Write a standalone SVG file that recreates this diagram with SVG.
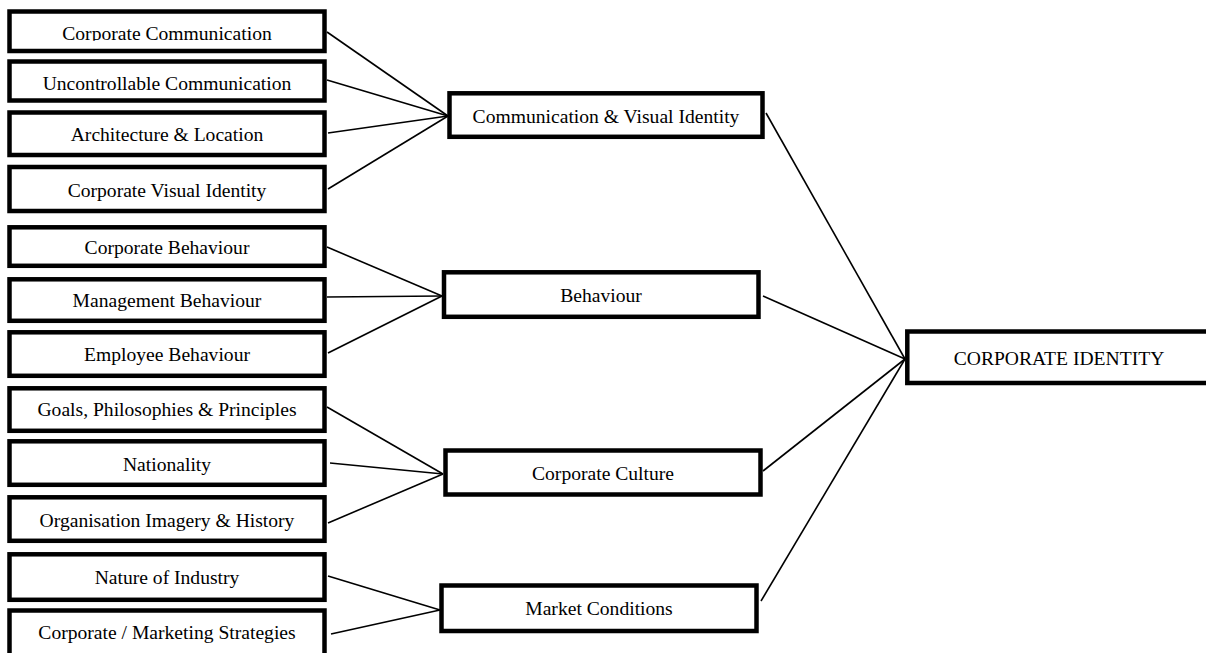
<svg xmlns="http://www.w3.org/2000/svg" width="1206" height="653" viewBox="0 0 1206 653">
<style>
.box{fill:#fff;stroke:#000;stroke-width:4.5}
.lbl{font-family:"Liberation Serif","Times New Roman",serif;font-size:19.6px;fill:#000;text-anchor:middle}
.con line{stroke:#000;stroke-width:1.6}
</style>
<defs>
<clipPath id="clip1"><rect x="0" y="0" width="400" height="40.8"/></clipPath>
</defs>
<rect width="1206" height="653" fill="#fff"/>
<g class="con">
<line x1="327" y1="32" x2="448" y2="116"/>
<line x1="327" y1="80" x2="448" y2="116"/>
<line x1="328" y1="133" x2="448" y2="116"/>
<line x1="328" y1="189" x2="448" y2="116"/>
<line x1="327" y1="247" x2="442" y2="296"/>
<line x1="327" y1="297" x2="442" y2="296"/>
<line x1="328" y1="353" x2="442" y2="296"/>
<line x1="327" y1="407" x2="443" y2="474"/>
<line x1="330" y1="463" x2="443" y2="474"/>
<line x1="328" y1="523" x2="443" y2="474"/>
<line x1="328" y1="576" x2="440" y2="610"/>
<line x1="331" y1="634" x2="440" y2="610"/>
<line x1="766" y1="113" x2="905" y2="359"/>
<line x1="763" y1="296" x2="905" y2="359"/>
<line x1="763" y1="471" x2="905" y2="359"/>
<line x1="761" y1="601" x2="905" y2="359"/>
</g>
<g id="n1"><rect class="box" x="9.5" y="11.5" width="315" height="39.5"/><text class="lbl" x="167" y="40" clip-path="url(#clip1)">Corporate Communication</text></g>
<g id="n2"><rect class="box" x="9.5" y="61.5" width="315" height="39"/><text class="lbl" x="167" y="90">Uncontrollable Communication</text></g>
<g id="n3"><rect class="box" x="9.5" y="112.5" width="315" height="42.5"/><text class="lbl" x="167" y="140.7">Architecture &amp; Location</text></g>
<g id="n4"><rect class="box" x="9.5" y="167" width="315" height="44"/><text class="lbl" x="167" y="196.7">Corporate Visual Identity</text></g>
<g id="n5"><rect class="box" x="9.5" y="227.3" width="315" height="38.5"/><text class="lbl" x="167" y="254.3">Corporate Behaviour</text></g>
<g id="n6"><rect class="box" x="9.5" y="279.3" width="315" height="41.5"/><text class="lbl" x="167" y="306.7">Management Behaviour</text></g>
<g id="n7"><rect class="box" x="9.5" y="332.3" width="315" height="43.5"/><text class="lbl" x="167" y="360.7">Employee Behaviour</text></g>
<g id="n8"><rect class="box" x="9.5" y="388.3" width="315" height="42.5"/><text class="lbl" x="167" y="416">Goals, Philosophies &amp; Principles</text></g>
<g id="n9"><rect class="box" x="9.5" y="441.3" width="315" height="43.5"/><text class="lbl" x="167" y="470.7">Nationality</text></g>
<g id="n10"><rect class="box" x="9.5" y="497.3" width="315" height="43.5"/><text class="lbl" x="167" y="526.7">Organisation Imagery &amp; History</text></g>
<g id="n11"><rect class="box" x="9.5" y="554.3" width="315" height="45.5"/><text class="lbl" x="167" y="584">Nature of Industry</text></g>
<g id="n12"><rect class="box" x="9.5" y="610.5" width="315" height="50"/><text class="lbl" x="167" y="639.3">Corporate / Marketing Strategies</text></g>
<g id="m1"><rect class="box" x="449.5" y="93.3" width="313" height="43.5"/><text class="lbl" x="606" y="122.7">Communication &amp; Visual Identity</text></g>
<g id="m2"><rect class="box" x="444" y="272.3" width="314.5" height="44.5"/><text class="lbl" x="601" y="302.3">Behaviour</text></g>
<g id="m3"><rect class="box" x="445.5" y="450.5" width="315" height="44"/><text class="lbl" x="603" y="480">Corporate Culture</text></g>
<g id="m4"><rect class="box" x="441.5" y="585.5" width="315" height="45.5"/><text class="lbl" x="599" y="615">Market Conditions</text></g>
<g id="ci"><rect class="box" x="907.3" y="331.5" width="310" height="51.5"/><text class="lbl" x="1059" y="365">CORPORATE IDENTITY</text></g>
</svg>
